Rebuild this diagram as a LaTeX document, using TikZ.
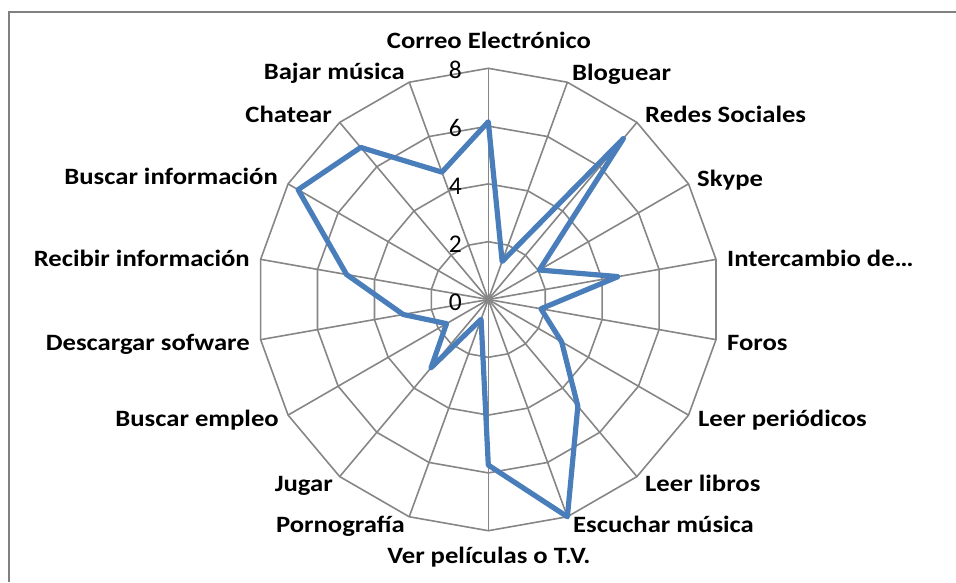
\documentclass[tikz,border=0pt]{standalone}
\usepackage{fontspec}
\setmainfont{Carlito}
\newfontfamily\lblfont[FakeStretch=1.14]{Carlito}
\definecolor{gridgray}{RGB}{134,134,134}
\definecolor{framegray}{RGB}{128,128,128}
\definecolor{seriesblue}{RGB}{74,126,187}
\begin{document}
\begin{tikzpicture}[x=1pt,y=1pt,
  gridline/.style={draw=gridgray, line width=1.6pt},
  series/.style={draw=seriesblue, line width=5.2pt, line join=round},
  axlabel/.style={font=\lblfont\bfseries\fontsize{23.4}{23.4}\selectfont, inner sep=0pt},
  scalelabel/.style={font=\fontsize{25.5}{25.5}\selectfont, inner sep=0pt, anchor=base east},
]
\useasboundingbox (0,0) rectangle (956,582);
\draw[framegray, line width=2pt] (9,0) -- (9,569.5) -- (956,569.5);
\coordinate (C) at (488.3,282.5);
\def\U{28.9}
% rings
\foreach \k in {2,4,6,8} {
  \draw[gridline] ([shift={(C)}]90:\k*\U)
    \foreach \i in {1,...,17} { -- ([shift={(C)}]90-\i*20:\k*\U) } -- cycle;
}
% spokes
\foreach \i in {0,...,17} {
  \coordinate (s\i) at ([shift={(C)}]90-\i*20:8*\U);
  \draw[gridline] (C) -- (s\i);
}
% scale labels
\foreach \k in {0,2,4,6,8} {
  \node[scalelabel] (n\k) at (462,272+\k*28.9) {\k};
}
% data
\foreach \v [count=\i from 0] in {6.15,1.4,7.27,2.04,4.56,1.85,2.93,4.82,8.0,5.73,0.73,3.08,1.67,2.99,4.98,7.6,6.87,4.69} {
  \coordinate (d\i) at ([shift={(C)}]90-\i*20:\v*\U);
}
\draw[series] (d0) -- (d1) -- (d2) -- (d3) -- (d4) -- (d5) -- (d6) -- (d7) -- (d8) -- (d9)
  -- (d10) -- (d11) -- (d12) -- (d13) -- (d14) -- (d15) -- (d16) -- (d17) -- cycle;
% axis labels
\node[axlabel, anchor=base] (l0) at (489,533) {Correo Electrónico};
\node[axlabel, anchor=base west] (l1) at (572,501.5) {Bloguear};
\node[axlabel, anchor=base west] (l2) at (645,459.5) {Redes Sociales};
\node[axlabel, anchor=base west] (l3) at (697,395) {Skype};
\node[axlabel, anchor=base west] (l4) at (727,316) {Intercambio de…};
\node[axlabel, anchor=base west] (l5) at (727,232) {Foros};
\node[axlabel, anchor=base west] (l6) at (698,155.5) {Leer periódicos};
\node[axlabel, anchor=base west] (l7) at (645,91) {Leer libros};
\node[axlabel, anchor=base west] (l8) at (573,49.5) {Escuchar música};
\node[axlabel, anchor=base] (l9) at (489,19) {Ver películas o T.V.};
\node[axlabel, anchor=base east] (l10) at (405,49.5) {Pornografía};
\node[axlabel, anchor=base east] (l11) at (333,91) {Jugar};
\node[axlabel, anchor=base east] (l12) at (279,156) {Buscar empleo};
\node[axlabel, anchor=base east] (l13) at (250,232) {Descargar sofware};
\node[axlabel, anchor=base east] (l14) at (250,316) {Recibir información};
\node[axlabel, anchor=base east] (l15) at (278,397) {Buscar información};
\node[axlabel, anchor=base east] (l16) at (332,459.5) {Chatear};
\node[axlabel, anchor=base east] (l17) at (405,502.5) {Bajar música};
\end{tikzpicture}
\end{document}
